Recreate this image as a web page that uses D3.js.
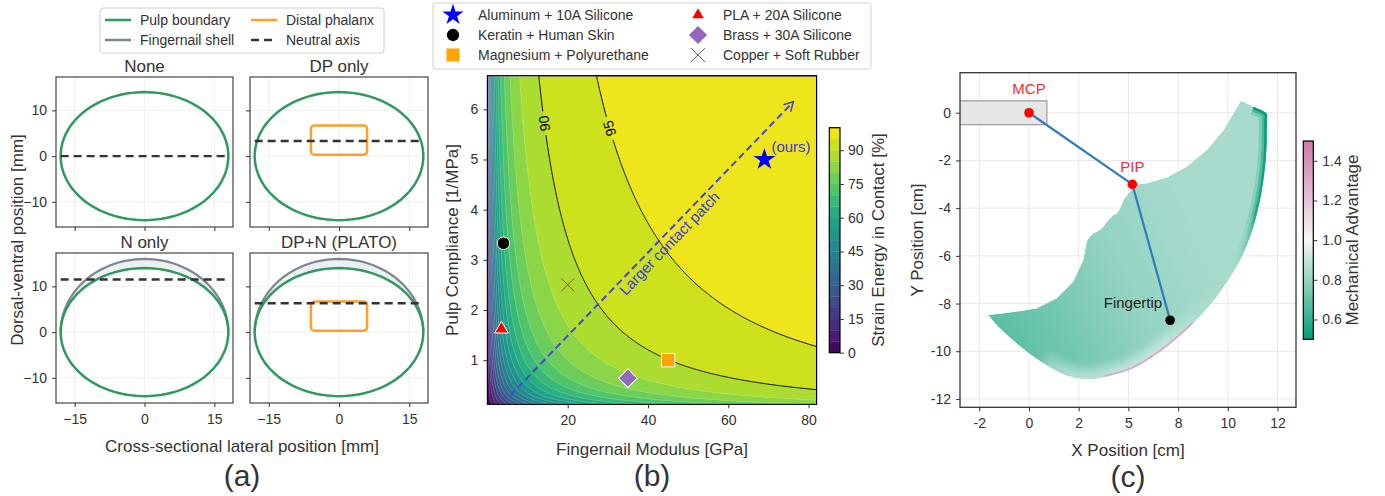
<!DOCTYPE html>
<html lang="en">
<head>
<meta charset="UTF-8">
<title>Fingernail / pulp design figure</title>
<script src="https://d3js.org/d3.v7.min.js"></script>
<style>
  body { margin: 0; background: #fff; }
  svg { display: block; font-family: "Liberation Sans", Arial, sans-serif; }
</style>
</head>
<body>
<svg id="fig" width="1385" height="496"></svg>
<script>
// ---------- (a) cross sections [mm]
const pulpA = 18, pulpB = 14;          // pulp ellipse semi-axes
const shellB = 16;                     // fingernail shell dorsal height
const phalanxBox = [-6, 6, 0.3, 6.7];  // x0, x1, y0, y1
const sectionTitles = ["None", "DP only", "N only", "DP+N (PLATO)"];
const neutralAxisY = [0, 3.3, 11.5, 6.3];
const hasPhalanx = [false, true, false, true];
const hasShell = [false, false, true, true];
const sectionXTicks = [-15, 0, 15];
const sectionYTicks = [-10, 0, 10];
const sectionLegend = ["Pulp boundary", "Fingernail shell", "Distal phalanx", "Neutral axis"];

// ---------- (b) strain energy map
const levels = d3.range(0, 101, 5);
const labeledLevels = [90, 95];
const labelCompliance = [5.72, 5.62];
const energyTicks = [0, 15, 30, 45, 60, 75, 90];
const modulusTicks = [20, 40, 60, 80];
const complianceTicks = [1, 2, 3, 4, 5, 6];
// surface: energy = 100 v/(1+v), v = (E^p C / k)^s
const surfP = 1.5, surfK = 11.05, surfS = 0.662;
const materials = ["Aluminum + 10A Silicone", "Keratin + Human Skin", "Magnesium + Polyurethane",
                   "PLA + 20A Silicone", "Brass + 30A Silicone", "Copper + Soft Rubber"];
const matModulus = [69, 4, 45, 3.5, 35, 20];
const matCompliance = [5.0, 3.33, 1.0, 1.62, 0.64, 2.5];
const matShape = ["star", "circle", "square", "triangle", "diamond", "cross"];
const matColor = ["#0000ff", "#000000", "#ffa500", "#ff0000", "#9467bd", "#8c564b"];
const arrowFrom = [5.6, 0.29], arrowTo = [76.2, 6.15];
const arrowText = "Larger contact patch";

// ---------- (c) workspace [cm]
const jointNames = ["MCP", "PIP", "Fingertip"];
const jointX = [0, 5.2, 7.1];
const jointY = [0, -3.0, -8.7];
const palmX = [-5, 0.9], palmY = [-0.5, 0.5];
const wsOuter = [[10.66, 0.5], [11.3, 0.25], [11.96, -0.05], [11.96, -0.31], [11.92, -1.84], [11.62, -3.66],
  [11.12, -5.2], [10.45, -6.45], [9.44, -7.71], [8.27, -8.83], [6.93, -9.81], [5.25, -10.71],
  [3.74, -11.09], [3.07, -11.17], [2.06, -11.06], [0.72, -10.5], [-0.62, -9.67], [-1.46, -9.04], [-2.05, -8.48]];
const wsInner = [[-0.96, -8.38], [0.39, -8.2], [1.39, -7.78], [2.23, -7.08], [2.73, -6.17], [2.9, -5.41],
  [3.0, -5.25], [3.23, -5.06], [3.5, -4.95], [3.74, -4.78], [3.99, -4.5], [4.24, -4.29], [4.4, -4.25],
  [4.58, -4.01], [4.75, -3.66], [5.0, -3.38], [5.1, -3.3], [5.25, -3.03], [5.92, -2.96], [6.93, -2.71],
  [7.93, -2.26], [8.94, -1.56], [9.78, -0.73], [10.28, -0.03]];
// mechanical advantage read from the shading
const maLeftLobe = 0.68, maCentre = 0.82, maRightRim = 0.5, maBottomRim = 0.93, maPinkRim = 1.3;
const xTicksC = [-2.5, 0, 2.5, 5, 7.5, 10, 12.5];
const xTickLabelsC = ["-2", "0", "2", "5", "8", "10", "12"];
const yTicksC = [0, -2, -4, -6, -8, -10, -12];
const maTicks = [0.6, 0.8, 1.0, 1.2, 1.4];

const FONT = "'Liberation Sans', Arial, sans-serif";
const INK = "#333";
const svg = d3.select("#fig");
const defs = svg.append("defs");

function styleAxis(g, size) {
  g.attr("font-family", FONT).attr("font-size", size);
  g.select(".domain").remove();
  g.selectAll(".tick line").attr("stroke", INK);
  g.selectAll(".tick text").attr("fill", INK);
}
function label(x, y, txt, size, rot, color) {
  svg.append("text").attr("transform", `translate(${x},${y})` + (rot ? ` rotate(${rot})` : ""))
    .attr("text-anchor", "middle").attr("dy", "0.35em").attr("font-size", size)
    .attr("fill", color || INK).text(txt);
}

// ================= (a)
const boxesA = [
  { x: [56, 233], y: [227, 77] }, { x: [250, 428], y: [227, 77] },
  { x: [56, 233], y: [403, 253] }, { x: [250, 428], y: [403, 253] }
];
const GREEN = "#2f9b5a", GREY = "#7d8590", ORANGE = "#ffa024";
const angles = d3.range(0, 361, 3).map(a => a * Math.PI / 180);
sectionTitles.forEach((title, k) => {
  const b = boxesA[k];
  const x = d3.scaleLinear().domain([-19, 19]).range(b.x);
  const y = d3.scaleLinear().domain([-15.5, 17.3]).range(b.y);
  const g = svg.append("g");
  g.selectAll(".gx").data(sectionXTicks).join("line")
    .attr("x1", d => x(d)).attr("x2", d => x(d)).attr("y1", b.y[0]).attr("y2", b.y[1])
    .attr("stroke", "#ececec").attr("stroke-width", 0.8);
  g.selectAll(".gy").data(sectionYTicks).join("line")
    .attr("y1", d => y(d)).attr("y2", d => y(d)).attr("x1", b.x[0]).attr("x2", b.x[1])
    .attr("stroke", "#ececec").attr("stroke-width", 0.8);
  const line = d3.line().x(d => x(d[0])).y(d => y(d[1]));
  if (hasShell[k]) {
    const up = angles.filter(a => a <= Math.PI + 1e-9);
    const outer = up.map(a => [pulpA * Math.cos(a), shellB * Math.sin(a)]);
    const inner = up.slice().reverse().map(a => [pulpA * Math.cos(a), pulpB * Math.sin(a)]);
    g.append("path").attr("d", line(outer.concat(inner)) + "Z").attr("fill", "#eceff3");
    g.append("path").attr("d", line(outer)).attr("fill", "none").attr("stroke", GREY).attr("stroke-width", 2.2);
  }
  g.append("path").attr("d", line(angles.map(a => [pulpA * Math.cos(a), pulpB * Math.sin(a)])) + "Z")
    .attr("fill", "none").attr("stroke", GREEN).attr("stroke-width", 2.5);
  if (hasPhalanx[k]) {
    g.append("rect").attr("x", x(phalanxBox[0])).attr("y", y(phalanxBox[3]))
      .attr("width", x(phalanxBox[1]) - x(phalanxBox[0])).attr("height", y(phalanxBox[2]) - y(phalanxBox[3]))
      .attr("rx", 3.5).attr("fill", "none").attr("stroke", ORANGE).attr("stroke-width", 2.5);
  }
  g.append("line").attr("x1", x(-pulpA)).attr("x2", x(pulpA))
    .attr("y1", y(neutralAxisY[k])).attr("y2", y(neutralAxisY[k]))
    .attr("stroke", INK).attr("stroke-width", 2.4).attr("stroke-dasharray", "8,5");
  g.append("rect").attr("x", b.x[0]).attr("y", b.y[1]).attr("width", b.x[1] - b.x[0])
    .attr("height", b.y[0] - b.y[1]).attr("fill", "none").attr("stroke", "#444").attr("stroke-width", 1.2);
  const ax = g.append("g").attr("transform", `translate(0,${b.y[0]})`)
    .call(d3.axisBottom(x).tickValues(sectionXTicks).tickSize(4).tickPadding(7)
      .tickFormat(k >= 2 ? d3.format("d") : () => ""));
  styleAxis(ax, 14);
  const ay = g.append("g").attr("transform", `translate(${b.x[0]},0)`)
    .call(d3.axisLeft(y).tickValues(sectionYTicks).tickSize(4).tickPadding(5)
      .tickFormat(k % 2 === 0 ? d3.format("d") : () => ""));
  styleAxis(ay, 14);
  label((b.x[0] + b.x[1]) / 2, b.y[1] - 11, title, 17);
});
label(17, 240, "Dorsal-ventral position [mm]", 17, -90);
label(242, 446, "Cross-sectional lateral position [mm]", 17);
label(242, 475, "(a)", 30);

// legend (a)
const legA = svg.append("g");
legA.append("rect").attr("x", 100).attr("y", 8).attr("width", 284).attr("height", 45).attr("rx", 3)
  .attr("fill", "#fff").attr("stroke", "#d0d0d0");
const legStyles = [
  { c: GREEN, dash: null }, { c: GREY, dash: null }, { c: ORANGE, dash: null }, { c: INK, dash: "8,5" }
];
sectionLegend.forEach((name, i) => {
  const cx = i < 2 ? 105 : 251, cy = i % 2 === 0 ? 20 : 40;
  legA.append("line").attr("x1", cx).attr("x2", cx + 26).attr("y1", cy).attr("y2", cy)
    .attr("stroke", legStyles[i].c).attr("stroke-width", 2.5).attr("stroke-dasharray", legStyles[i].dash);
  legA.append("text").attr("x", cx + 35).attr("y", cy).attr("dy", "0.35em").attr("font-size", 14)
    .attr("fill", INK).text(name);
});

// ================= (b)
const xB = d3.scaleLinear().domain([0, 82]).range([487.4, 816.6]);
const yB = d3.scaleLinear().domain([0.12, 6.67]).range([404.3, 75.7]);
const energyAt = (E, C) => {
  const v = Math.pow(Math.pow(E, surfP) * C / surfK, surfS);
  return 100 * v / (1 + v);
};
const modulusFor = (f, C) => Math.pow(surfK * Math.pow(f / (100 - f), 1 / surfS) / C, 1 / surfP);
const nx = 330, ny = 330;
const gxs = d3.scaleLinear().domain([0, nx]).range(xB.domain());
const gys = d3.scaleLinear().domain([0, ny]).range([yB.domain()[1], yB.domain()[0]]);
const grid = new Float64Array(nx * ny);
for (let j = 0; j < ny; j++) for (let i = 0; i < nx; i++) grid[j * nx + i] = energyAt(gxs(i + 0.5), gys(j + 0.5));
const proj = d3.geoTransform({ point(px, py) { this.stream.point(xB(gxs(px)), yB(gys(py))); } });
const cpath = d3.geoPath(proj);
const bands = d3.contours().size([nx, ny]).thresholds(levels.slice(0, -1))(grid);
const bandColor = v => d3.interpolateViridis((v + 2.5) / 100);

defs.append("clipPath").attr("id", "clipB").append("rect")
  .attr("x", xB.range()[0]).attr("y", yB.range()[1])
  .attr("width", xB.range()[1] - xB.range()[0]).attr("height", yB.range()[0] - yB.range()[1]);
const gB = svg.append("g").attr("clip-path", "url(#clipB)");
gB.selectAll("path.band").data(bands).join("path").attr("class", "band")
  .attr("d", cpath).attr("fill", d => bandColor(d.value)).attr("stroke", d => bandColor(d.value)).attr("stroke-width", 0.3);
gB.selectAll("path.wl").data(bands.filter(d => d.value > 0 && d.value < 90)).join("path").attr("class", "wl")
  .attr("d", cpath).attr("fill", "none").attr("stroke", "rgba(255,255,255,0.4)").attr("stroke-width", 0.6);

// contour labels with gaps
const mask = defs.append("mask").attr("id", "lblMask").attr("maskUnits", "userSpaceOnUse");
mask.append("rect").attr("x", 0).attr("y", 0).attr("width", 1385).attr("height", 496).attr("fill", "#fff");
const labelInfo = labeledLevels.map((lv, i) => {
  const C = labelCompliance[i];
  const p0 = [xB(modulusFor(lv, C + 0.15)), yB(C + 0.15)];
  const p1 = [xB(modulusFor(lv, C - 0.15)), yB(C - 0.15)];
  const ang = Math.atan2(p0[1] - p1[1], p0[0] - p1[0]) * 180 / Math.PI;
  return { lv, x: xB(modulusFor(lv, C)), y: yB(C), ang };
});
labelInfo.forEach(d => {
  mask.append("rect").attr("x", -12).attr("y", -8).attr("width", 24).attr("height", 16)
    .attr("transform", `translate(${d.x},${d.y}) rotate(${d.ang})`).attr("fill", "#000");
});
gB.append("g").attr("mask", "url(#lblMask)").selectAll("path")
  .data(bands.filter(d => labeledLevels.includes(d.value))).join("path")
  .attr("d", cpath).attr("fill", "none").attr("stroke", "#000").attr("stroke-width", 1);
labelInfo.forEach(d => {
  svg.append("text").attr("transform", `translate(${d.x},${d.y}) rotate(${d.ang})`)
    .attr("text-anchor", "middle").attr("dy", "0.35em").attr("font-size", 14).attr("fill", "#000").text(d.lv);
});

// arrow
defs.append("marker").attr("id", "arrowHead").attr("viewBox", "-10 -6 12 12").attr("refX", 0).attr("refY", 0)
  .attr("markerWidth", 12).attr("markerHeight", 12).attr("markerUnits", "userSpaceOnUse").attr("orient", "auto")
  .append("path").attr("d", "M-9,-5L0,0L-9,5").attr("fill", "none").attr("stroke", "#4646d8").attr("stroke-width", 1.6);
svg.append("line").attr("x1", xB(arrowFrom[0])).attr("y1", yB(arrowFrom[1]))
  .attr("x2", xB(arrowTo[0])).attr("y2", yB(arrowTo[1]))
  .attr("stroke", "#4646d8").attr("stroke-width", 2).attr("stroke-dasharray", "7,4").attr("marker-end", "url(#arrowHead)");
{
  const a = Math.atan2(yB(arrowTo[1]) - yB(arrowFrom[1]), xB(arrowTo[0]) - xB(arrowFrom[0])) * 180 / Math.PI;
  const t = 0.54;
  const mx = xB(arrowFrom[0] + t * (arrowTo[0] - arrowFrom[0]));
  const my = yB(arrowFrom[1] + t * (arrowTo[1] - arrowFrom[1]));
  svg.append("text").attr("transform", `translate(${mx},${my}) rotate(${a}) translate(0,9)`)
    .attr("text-anchor", "middle").attr("dy", "0.35em").attr("font-size", 15).attr("fill", "#3c3cd6").text(arrowText);
}

// markers
const plotSize = { star: 150, circle: 125, square: 180, triangle: 80, diamond: 175, cross: 13 };
const legSize = { star: 140, circle: 120, square: 170, triangle: 58, diamond: 165, cross: 14 };
function marker(g, shape, color, size, edge) {
  if (shape === "cross") {
    const r = size / 2;
    g.append("path").attr("d", `M${-r},${-r}L${r},${r}M${-r},${r}L${r},${-r}`)
      .attr("stroke", color).attr("stroke-width", 1).attr("fill", "none");
    return;
  }
  const type = { star: d3.symbolStar, circle: d3.symbolCircle, square: d3.symbolSquare,
                 triangle: d3.symbolTriangle, diamond: d3.symbolSquare }[shape];
  g.append("path").attr("d", d3.symbol(type, size)()).attr("fill", color)
    .attr("stroke", edge && shape !== "star" ? "#fff" : "none").attr("stroke-width", 1)
    .attr("transform", shape === "diamond" ? "rotate(45)" : null);
}
materials.forEach((m, i) => {
  const g = svg.append("g").attr("transform", `translate(${xB(matModulus[i])},${yB(matCompliance[i])})`);
  marker(g, matShape[i], matColor[i], plotSize[matShape[i]], true);
});
svg.append("text").attr("x", xB(matModulus[0]) + 7).attr("y", yB(matCompliance[0]) - 7)
  .attr("font-size", 15).attr("fill", "#3c3cd6").text("(ours)");

svg.append("rect").attr("x", xB.range()[0]).attr("y", yB.range()[1])
  .attr("width", xB.range()[1] - xB.range()[0]).attr("height", yB.range()[0] - yB.range()[1])
  .attr("fill", "none").attr("stroke", "#000").attr("stroke-width", 1.2);
styleAxis(svg.append("g").attr("transform", `translate(0,${yB.range()[0]})`)
  .call(d3.axisBottom(xB).tickValues(modulusTicks).tickSize(4).tickPadding(7)), 14);
styleAxis(svg.append("g").attr("transform", `translate(${xB.range()[0]},0)`)
  .call(d3.axisLeft(yB).tickValues(complianceTicks).tickSize(4).tickPadding(5).tickFormat(d3.format("d"))), 14);
label(452, 240, "Pulp Compliance [1/MPa]", 17, -90);
label(652, 449, "Fingernail Modulus [GPa]", 17);
label(652, 475, "(b)", 30);

// colorbar (b)
const yCb = d3.scaleLinear().domain([0, 100]).range([352.7, 127.7]);
const cbB = svg.append("g");
cbB.selectAll("rect").data(levels.slice(0, -1)).join("rect")
  .attr("x", 829.3).attr("width", 10.7).attr("y", d => yCb(d + 5)).attr("height", d => yCb(d) - yCb(d + 5) + 0.3)
  .attr("fill", d => bandColor(d));
cbB.append("rect").attr("x", 829.3).attr("y", 127.7).attr("width", 10.7).attr("height", 225)
  .attr("fill", "none").attr("stroke", "#000").attr("stroke-width", 1.2);
styleAxis(svg.append("g").attr("transform", "translate(840,0)")
  .call(d3.axisRight(yCb).tickValues(energyTicks).tickSize(4).tickPadding(4)), 14);
label(878, 240, "Strain Energy in Contact [%]", 17, -90);

// legend (b)
const legB = svg.append("g");
legB.append("rect").attr("x", 433).attr("y", 3).attr("width", 438).attr("height", 66).attr("rx", 3)
  .attr("fill", "#fff").attr("stroke", "#d0d0d0");
materials.forEach((m, i) => {
  const cx = i < 3 ? 453 : 698, cy = 15 + (i % 3) * 20;
  marker(legB.append("g").attr("transform", `translate(${cx},${cy})`), matShape[i], matColor[i], legSize[matShape[i]], false);
  legB.append("text").attr("x", cx + 25).attr("y", cy).attr("dy", "0.35em").attr("font-size", 14)
    .attr("fill", INK).text(m);
});

// ================= (c)
const xC = d3.scaleLinear().domain([-3.47, 13.43]).range([960, 1296]);
const yC = d3.scaleLinear().domain([-12.35, 1.68]).range([407.3, 72.7]);
const maColor = d3.scaleLinear().domain([0.5, 1.0, 1.5]).range(["#009E73", "#f7f7f7", "#CC79A7"]);
defs.append("clipPath").attr("id", "clipC").append("rect")
  .attr("x", 960).attr("y", 72.7).attr("width", 336).attr("height", 334.6);
const gC = svg.append("g").attr("clip-path", "url(#clipC)");
gC.selectAll(".gx").data(xTicksC).join("line")
  .attr("x1", d => xC(d)).attr("x2", d => xC(d)).attr("y1", 72.7).attr("y2", 407.3)
  .attr("stroke", "#e8e8e8").attr("stroke-width", 1);
gC.selectAll(".gy").data(yTicksC).join("line")
  .attr("y1", d => yC(d)).attr("y2", d => yC(d)).attr("x1", 960).attr("x2", 1296)
  .attr("stroke", "#e8e8e8").attr("stroke-width", 1);
gC.append("rect").attr("x", xC(palmX[0])).attr("y", yC(palmY[1]))
  .attr("width", xC(palmX[1]) - xC(palmX[0])).attr("height", yC(palmY[0]) - yC(palmY[1]))
  .attr("fill", "#e6e6e6").attr("stroke", "#9a9a9a").attr("stroke-width", 1.2);

const smooth = d3.line().x(d => xC(d[0])).y(d => yC(d[1])).curve(d3.curveCatmullRom.alpha(0.5));
const straight = d3.line().x(d => xC(d[0])).y(d => yC(d[1]));
const wsPath = smooth(wsOuter) + straight(wsInner).replace(/^M/, "L") + "Z";
defs.append("clipPath").attr("id", "clipWS").append("path").attr("d", wsPath);
const grad = (id, p0, p1, stops) => {
  const lg = defs.append("linearGradient").attr("id", id).attr("gradientUnits", "userSpaceOnUse")
    .attr("x1", xC(p0[0])).attr("y1", yC(p0[1])).attr("x2", xC(p1[0])).attr("y2", yC(p1[1]));
  stops.forEach(s => lg.append("stop").attr("offset", s[0]).attr("stop-color", maColor(s[1])).attr("stop-opacity", s[2] ?? 1));
};
grad("wsBase", [-2, -8.5], [8.5, -4.5], [[0, maLeftLobe], [0.6, maCentre - 0.02], [1, maCentre + 0.02]]);
grad("wsRight", [11.9, 0], [10.2, -6.8], [[0, maRightRim], [0.6, maRightRim + 0.05, 0.9], [1, maCentre, 0]]);
grad("wsBottom", [9.5, -7.7], [-1, -9.6], [[0, maBottomRim, 0], [0.3, maBottomRim, 0.75], [0.75, maBottomRim, 0.65], [1, maBottomRim, 0]]);
const blur = (id, s) => defs.append("filter").attr("id", id).attr("x", "-20%").attr("y", "-20%")
  .attr("width", "140%").attr("height", "140%").append("feGaussianBlur").attr("stdDeviation", s);
blur("blur5", 5); blur("blur0", 0.6);
const ws = gC.append("g").attr("clip-path", "url(#clipWS)");
ws.append("path").attr("d", wsPath).attr("fill", "url(#wsBase)");
ws.append("path").attr("d", smooth(wsOuter.slice(7, 16))).attr("fill", "none")
  .attr("stroke", "url(#wsBottom)").attr("stroke-width", 20).attr("filter", "url(#blur5)");
const rimPath = smooth(wsOuter.slice(1, 10));
[[16, 0.25], [10, 0.45], [5, 1]].forEach(([w, o]) => {
  ws.append("path").attr("d", rimPath).attr("fill", "none")
    .attr("stroke", "url(#wsRight)").attr("stroke-width", w).attr("stroke-opacity", o);
});
ws.append("path").attr("d", smooth(wsOuter.slice(9, 13))).attr("fill", "none")
  .attr("stroke", maColor(maPinkRim)).attr("stroke-width", 3.4).attr("filter", "url(#blur0)");

gC.append("path").attr("d", straight(jointNames.map((n, i) => [jointX[i], jointY[i]])))
  .attr("fill", "none").attr("stroke", "#2f7bbd").attr("stroke-width", 2.2);
gC.selectAll("circle").data(jointNames).join("circle")
  .attr("cx", (d, i) => xC(jointX[i])).attr("cy", (d, i) => yC(jointY[i])).attr("r", 4.8)
  .attr("fill", (d, i) => i < 2 ? "#ff0000" : "#000");
const jointLabelLift = [24, 18];
[0, 1].forEach(i => {
  svg.append("text").attr("x", xC(jointX[i])).attr("y", yC(jointY[i]) - jointLabelLift[i]).attr("dy", "0.35em")
    .attr("text-anchor", "middle").attr("font-size", 15).attr("fill", "#f03030").text(jointNames[i]);
});
svg.append("text").attr("x", xC(jointX[2]) - 8).attr("y", yC(jointY[2]) - 18).attr("dy", "0.35em")
  .attr("text-anchor", "end").attr("font-size", 15).attr("fill", "#222").text(jointNames[2]);

svg.append("rect").attr("x", 960).attr("y", 72.7).attr("width", 336).attr("height", 334.6)
  .attr("fill", "none").attr("stroke", INK).attr("stroke-width", 1.3);
styleAxis(svg.append("g").attr("transform", "translate(0,407.3)")
  .call(d3.axisBottom(xC).tickValues(xTicksC).tickSize(4).tickPadding(7).tickFormat((d, i) => xTickLabelsC[i])), 14);
styleAxis(svg.append("g").attr("transform", "translate(960,0)")
  .call(d3.axisLeft(yC).tickValues(yTicksC).tickSize(4).tickPadding(5).tickFormat(d => String(d))), 14);
label(917, 240, "Y Position [cm]", 17, -90);
label(1128, 450, "X Position [cm]", 17);
label(1128, 476, "(c)", 30);

// colorbar (c)
const yMa = d3.scaleLinear().domain([0.5, 1.5]).range([339.3, 141]);
const cg = defs.append("linearGradient").attr("id", "maBar").attr("x1", 0).attr("y1", 1).attr("x2", 0).attr("y2", 0);
[0.5, 0.75, 1.0, 1.25, 1.5].forEach(v => cg.append("stop").attr("offset", (v - 0.5)).attr("stop-color", maColor(v)));
svg.append("rect").attr("x", 1303.3).attr("y", 141).attr("width", 10).attr("height", 198.3)
  .attr("fill", "url(#maBar)").attr("stroke", "#000").attr("stroke-width", 1.2);
styleAxis(svg.append("g").attr("transform", "translate(1313.3,0)")
  .call(d3.axisRight(yMa).tickValues(maTicks).tickSize(4).tickPadding(5).tickFormat(d3.format(".1f"))), 14);
label(1352, 240, "Mechanical Advantage", 17, -90);
</script>
</body>
</html>
